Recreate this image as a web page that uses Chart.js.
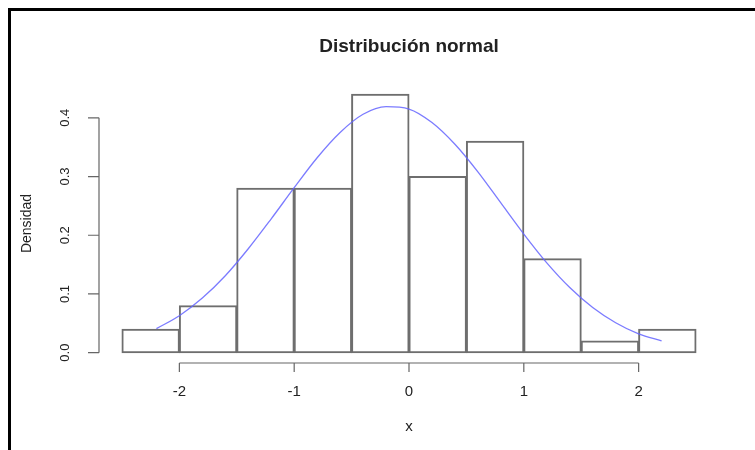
<!DOCTYPE html>
<html>
<head>
<meta charset="utf-8">
<script src="https://cdn.jsdelivr.net/npm/chart.js@4"></script>
<style>
  html, body { margin: 0; padding: 0; background: #fff; }
  #wrap { position: relative; width: 755px; height: 450px; overflow: hidden; }
  #c { position: absolute; left: 0; top: 0; }
  #frame { position: absolute; left: 8px; top: 8px; width: 760px; height: 460px;
           border-top: 3px solid #000; border-left: 3px solid #000; pointer-events: none; }
</style>
</head>
<body>
<div id="wrap">
  <canvas id="c" width="755" height="450"></canvas>
  <div id="frame"></div>
</div>
<script>
// ---- data ----
const binCenters = [-2.25, -1.75, -1.25, -0.75, -0.25, 0.25, 0.75, 1.25, 1.75, 2.25];
const binDensity = [0.04, 0.08, 0.28, 0.28, 0.44, 0.30, 0.36, 0.16, 0.02, 0.04];
const curveX = [-2.2, -2.0, -1.8, -1.6, -1.4, -1.2, -1.0, -0.8, -0.6, -0.4, -0.2, 0.0, 0.2, 0.4, 0.6, 0.8, 1.0, 1.2, 1.4, 1.6, 1.8, 2.0, 2.2];
const curveY = [0.041, 0.063, 0.093, 0.131, 0.177, 0.228, 0.281, 0.332, 0.375, 0.406, 0.419, 0.415, 0.392, 0.355, 0.308, 0.255, 0.202, 0.153, 0.111, 0.077, 0.051, 0.032, 0.020];
const xTicks = [-2, -1, 0, 1, 2];
const yTicks = [0.0, 0.1, 0.2, 0.3, 0.4];
const titleText = 'Distribución normal';
const xTitle = 'x';
const yTitle = 'Densidad';

const axisColor = '#666';
const textColor = '#222';
const fontFam = '"Liberation Sans", Arial, Helvetica, sans-serif';

// centre the title over the plot region, as R does
const centreTitle = {
  id: 'centreTitle',
  afterLayout(chart) {
    const t = chart.titleBlock;
    if (t) {
      t.left = chart.chartArea.left;
      t.right = chart.chartArea.right;
      t.width = t.right - t.left;
    }
  }
};

// R-style detached axes drawn through the chart scales
const rAxes = {
  id: 'rAxes',
  afterDraw(chart) {
    const ctx = chart.ctx;
    const xs = chart.scales.x, ys = chart.scales.y;
    const area = chart.chartArea;
    ctx.save();
    ctx.strokeStyle = axisColor;
    ctx.lineWidth = 1.2;
    // y axis
    const yx = area.left;
    ctx.beginPath();
    ctx.moveTo(yx, ys.getPixelForValue(yTicks[0]));
    ctx.lineTo(yx, ys.getPixelForValue(yTicks[yTicks.length - 1]));
    yTicks.forEach(v => {
      const p = ys.getPixelForValue(v);
      ctx.moveTo(yx, p);
      ctx.lineTo(yx - 11, p);
    });
    ctx.stroke();
    // x axis
    const xy = area.bottom;
    ctx.beginPath();
    ctx.moveTo(xs.getPixelForValue(xTicks[0]), xy);
    ctx.lineTo(xs.getPixelForValue(xTicks[xTicks.length - 1]), xy);
    xTicks.forEach(v => {
      const p = xs.getPixelForValue(v);
      ctx.moveTo(p, xy);
      ctx.lineTo(p, xy + 9);
    });
    ctx.stroke();
    ctx.restore();
  }
};

new Chart(document.getElementById('c'), {
  data: {
    datasets: [
      {
        type: 'line',
        order: 0,
        data: curveX.map((x, i) => ({ x: x, y: curveY[i] })),
        borderColor: 'rgba(100,100,255,0.85)',
        borderWidth: 1.3,
        pointRadius: 0,
        cubicInterpolationMode: 'monotone',
        fill: false
      },
      {
        type: 'bar',
        order: 1,
        data: binCenters.map((x, i) => ({ x: x, y: binDensity[i] })),
        backgroundColor: 'rgba(255,255,255,0)',
        borderColor: '#6e6e6e',
        borderWidth: 1,
        borderSkipped: false,
        inflateAmount: 0.5,
        barPercentage: 1,
        categoryPercentage: 1
      }
    ]
  },
  options: {
    responsive: false,
    animation: false,
    layout: { padding: { left: 0, right: 36, top: 0, bottom: 0 } },
    plugins: {
      legend: { display: false },
      tooltip: { enabled: false },
      title: {
        display: true,
        text: titleText,
        color: textColor,
        font: { family: fontFam, size: 19, weight: 'bold', lineHeight: 1.2 },
        padding: { top: 35.5, bottom: 25.7 }
      }
    },
    scales: {
      x: {
        type: 'linear',
        offset: false,
        min: -2.7,
        max: 2.7,
        afterFit(s) { s.height = 87; },
        afterBuildTicks(s) { s.ticks = xTicks.map(v => ({ value: v })); },
        grid: { display: false, drawTicks: false, offset: false },
        border: { display: false },
        ticks: {
          autoSkip: false,
          includeBounds: false,
          maxRotation: 0,
          minRotation: 0,
          padding: 20,
          color: textColor,
          font: { family: fontFam, size: 15 },
          callback: v => String(v)
        },
        title: {
          display: true,
          text: xTitle,
          color: textColor,
          font: { family: fontFam, size: 15, lineHeight: 1.2 },
          padding: { top: 0, bottom: 14 }
        }
      },
      y: {
        type: 'linear',
        min: -0.0176,
        max: 0.4576,
        afterFit(s) { s.width = 99; },
        afterBuildTicks(s) { s.ticks = yTicks.map(v => ({ value: v })); },
        grid: { display: false, drawTicks: false },
        border: { display: false },
        ticks: {
          autoSkip: false,
          includeBounds: false,
          minRotation: 90,
          maxRotation: 90,
          crossAlign: 'center',
          padding: 25,
          color: textColor,
          font: { family: fontFam, size: 13 },
          callback: v => Number(v).toFixed(1)
        },
        title: {
          display: true,
          text: yTitle,
          color: textColor,
          font: { family: fontFam, size: 14, lineHeight: 1.2 },
          padding: { top: 18.6, bottom: 0 }
        }
      }
    }
  },
  plugins: [centreTitle, rAxes]
});
</script>
</body>
</html>
